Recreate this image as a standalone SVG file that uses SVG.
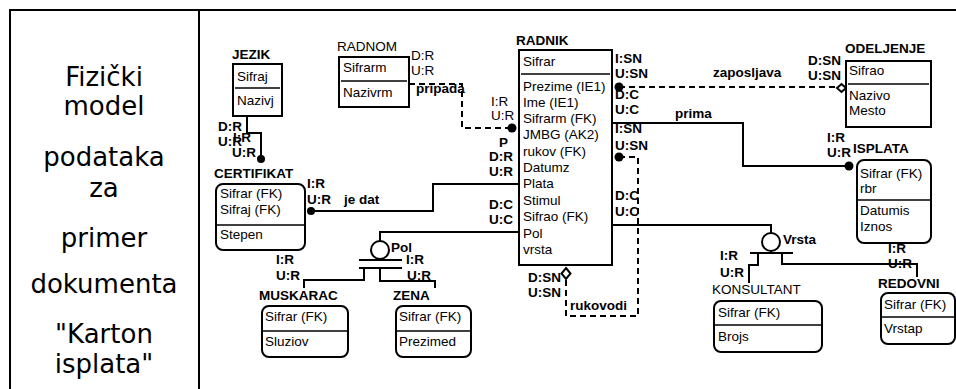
<svg xmlns="http://www.w3.org/2000/svg" width="956" height="389" viewBox="0 0 956 389">
<style>
.box{fill:#fff;stroke:#000;stroke-width:2}
.div{stroke:#000;stroke-width:1.5}
.ln{fill:none;stroke:#000;stroke-width:2}
.dash{stroke-dasharray:6 4}
text{font-family:"Liberation Sans",Arial,sans-serif;font-size:13.5px;fill:#000}
.b{font-weight:bold}
.big{font-family:"DejaVu Sans",Verdana,sans-serif;font-size:26px;text-anchor:middle}
</style>
<rect width="956" height="389" fill="#fff"/>
<g id="frame">
<path class="ln" d="M9 10H956M10 9V389M199 10V389"/>
<text class="big" x="104" y="86">Fizički</text>
<text class="big" x="104" y="115">model</text>
<text class="big" x="104" y="166">podataka</text>
<text class="big" x="104" y="197">za</text>
<text class="big" x="104" y="247">primer</text>
<text class="big" x="104" y="293">dokumenta</text>
<text class="big" x="104" y="343">"Karton</text>
<text class="big" x="104" y="373">isplata"</text>
</g>
<g id="connectors">
<path class="ln" d="M247 116V133H261V159"/>
<circle cx="261" cy="159" r="4"/>
<path class="ln" d="M311 211H433V184H519"/>
<circle cx="311" cy="211" r="4"/>
<path class="ln dash" d="M409 84H462V128H512"/>
<circle cx="512" cy="128" r="4.5"/>
<path class="ln" d="M519 232H380V241"/>
<circle cx="380" cy="250" r="9" fill="#fff" stroke="#000" stroke-width="2"/>
<path class="ln" d="M359 260H402M359 268H402M364 268V280H304V288M380 268V281H435V288"/>
<path class="ln dash" d="M619 87H837"/>
<circle cx="619" cy="87" r="4.5"/>
<polygon points="837,88 841.5,84 846,88 841.5,92" fill="#fff" stroke="#000" stroke-width="2"/>
<path class="ln" d="M612 123H743V166H849"/>
<circle cx="849" cy="166" r="4.5"/>
<path class="ln dash" d="M619 157H638V316H566V279"/>
<circle cx="619" cy="157" r="4.5"/>
<polygon points="566,268 570.5,273.5 566,279 561.5,273.5" fill="#fff" stroke="#000" stroke-width="2"/>
<path class="ln" d="M612 225H771V233"/>
<circle cx="771" cy="242" r="9" fill="#fff" stroke="#000" stroke-width="2"/>
<path class="ln" d="M750 253H793M758 253V265H749V283M782 253V264H917V277"/>
<text class="b" x="218" y="131">D:R</text>
<text class="b" x="218" y="146">U:R</text>
<text class="b" x="233" y="142">I:R</text>
<text class="b" x="232" y="157">U:R</text>
<text x="411" y="60">D:R</text>
<text x="411" y="75">U:R</text>
<text class="b" x="416" y="93">pripada</text>
<text x="491" y="106">I:R</text>
<text x="491" y="120">U:R</text>
<text class="b" x="499" y="147">P</text>
<text class="b" x="489" y="161">D:R</text>
<text class="b" x="489" y="176">U:R</text>
<text class="b" x="307" y="188">I:R</text>
<text class="b" x="307" y="204">U:R</text>
<text class="b" x="344" y="204">je dat</text>
<text class="b" x="489" y="209">D:C</text>
<text class="b" x="489" y="224">U:C</text>
<text class="b" x="391" y="252">Pol</text>
<text class="b" x="276" y="264">I:R</text>
<text class="b" x="276" y="280">U:R</text>
<text class="b" x="406" y="264">I:R</text>
<text class="b" x="407" y="280">U:R</text>
<text class="b" x="615" y="63">I:SN</text>
<text class="b" x="615" y="78">U:SN</text>
<text class="b" x="615" y="99">D:C</text>
<text class="b" x="615" y="114">U:C</text>
<text class="b" x="615" y="133">I:SN</text>
<text class="b" x="615" y="150">U:SN</text>
<text class="b" x="615" y="200">D:C</text>
<text class="b" x="615" y="216">U:C</text>
<text class="b" x="528" y="282">D:SN</text>
<text class="b" x="528" y="297">U:SN</text>
<text class="b" x="570" y="310">rukovodi</text>
<text class="b" x="713" y="77">zaposljava</text>
<text class="b" x="675" y="118">prima</text>
<text class="b" x="808" y="65">D:SN</text>
<text class="b" x="808" y="80">U:SN</text>
<text class="b" x="827" y="142">I:R</text>
<text class="b" x="827" y="157">U:R</text>
<text class="b" x="783" y="244">Vrsta</text>
<text class="b" x="720" y="260">I:R</text>
<text class="b" x="720" y="277">U:R</text>
<text class="b" x="888" y="253">I:R</text>
<text class="b" x="888" y="268">U:R</text>
</g>
<g id="JEZIK">
<text class="b" x="232" y="59">JEZIK</text>
<rect class="box" x="233" y="64" width="49" height="52"/>
<line class="div" x1="235" y1="88" x2="280" y2="88"/>
<text x="237" y="81">Sifraj</text>
<text x="237" y="105">Nazivj</text>
</g>
<g id="RADNOM">
<text x="337" y="51">RADNOM</text>
<rect class="box" x="339" y="57" width="70" height="50"/>
<line class="div" x1="341" y1="81" x2="407" y2="81"/>
<text x="343" y="72">Sifrarm</text>
<text x="343" y="97">Nazivrm</text>
</g>
<g id="RADNIK">
<text class="b" x="516" y="45">RADNIK</text>
<rect class="box" x="519" y="50" width="93" height="215"/>
<line class="div" x1="521" y1="74" x2="610" y2="74"/>
<text x="523" y="66">Sifrar</text>
<text x="523" y="91">Prezime (IE1)</text>
<text x="523" y="107">Ime (IE1)</text>
<text x="523" y="123">Sifrarm (FK)</text>
<text x="523" y="139">JMBG (AK2)</text>
<text x="523" y="156">rukov (FK)</text>
<text x="523" y="172">Datumz</text>
<text x="523" y="188">Plata</text>
<text x="523" y="205">Stimul</text>
<text x="523" y="221">Sifrao (FK)</text>
<text x="523" y="238">Pol</text>
<text x="523" y="254">vrsta</text>
</g>
<g id="ODELJENJE">
<text class="b" x="845" y="53">ODELJENJE</text>
<rect class="box" x="846" y="61" width="85" height="66"/>
<line class="div" x1="848" y1="84" x2="929" y2="84"/>
<text x="849" y="75">Sifrao</text>
<text x="849" y="100">Nazivo</text>
<text x="849" y="115">Mesto</text>
</g>
<g id="ISPLATA">
<text class="b" x="853" y="153">ISPLATA</text>
<rect class="box" x="857" y="160" width="74" height="83" rx="7"/>
<line class="div" x1="858" y1="200" x2="930" y2="200"/>
<text x="860" y="178">Sifrar (FK)</text>
<text x="860" y="193">rbr</text>
<text x="860" y="215">Datumis</text>
<text x="860" y="231">Iznos</text>
</g>
<g id="CERTIFIKAT">
<text class="b" x="214" y="178">CERTIFIKAT</text>
<rect class="box" x="216" y="184" width="89" height="66" rx="7"/>
<line class="div" x1="217" y1="225" x2="304" y2="225"/>
<text x="220" y="198">Sifrar (FK)</text>
<text x="220" y="214">Sifraj (FK)</text>
<text x="220" y="239">Stepen</text>
</g>
<g id="MUSKARAC">
<text class="b" x="259" y="300">MUSKARAC</text>
<rect class="box" x="262" y="306" width="86" height="51" rx="7"/>
<line class="div" x1="263" y1="331" x2="347" y2="331"/>
<text x="265" y="321">Sifrar (FK)</text>
<text x="265" y="346">Sluziov</text>
</g>
<g id="ZENA">
<text class="b" x="393" y="300">ZENA</text>
<rect class="box" x="396" y="306" width="75" height="51" rx="7"/>
<line class="div" x1="397" y1="331" x2="470" y2="331"/>
<text x="399" y="321">Sifrar (FK)</text>
<text x="399" y="346">Prezimed</text>
</g>
<g id="KONSULTANT">
<text x="712" y="294">KONSULTANT</text>
<rect class="box" x="714" y="301" width="108" height="51" rx="7"/>
<line class="div" x1="715" y1="325" x2="821" y2="325"/>
<text x="718" y="317">Sifrar (FK)</text>
<text x="718" y="341">Brojs</text>
</g>
<g id="REDOVNI">
<text class="b" x="878" y="288">REDOVNI</text>
<rect class="box" x="881" y="293" width="74" height="51" rx="7"/>
<line class="div" x1="882" y1="317" x2="954" y2="317"/>
<text x="884" y="309">Sifrar (FK)</text>
<text x="884" y="333">Vrstap</text>
</g>
</svg>
